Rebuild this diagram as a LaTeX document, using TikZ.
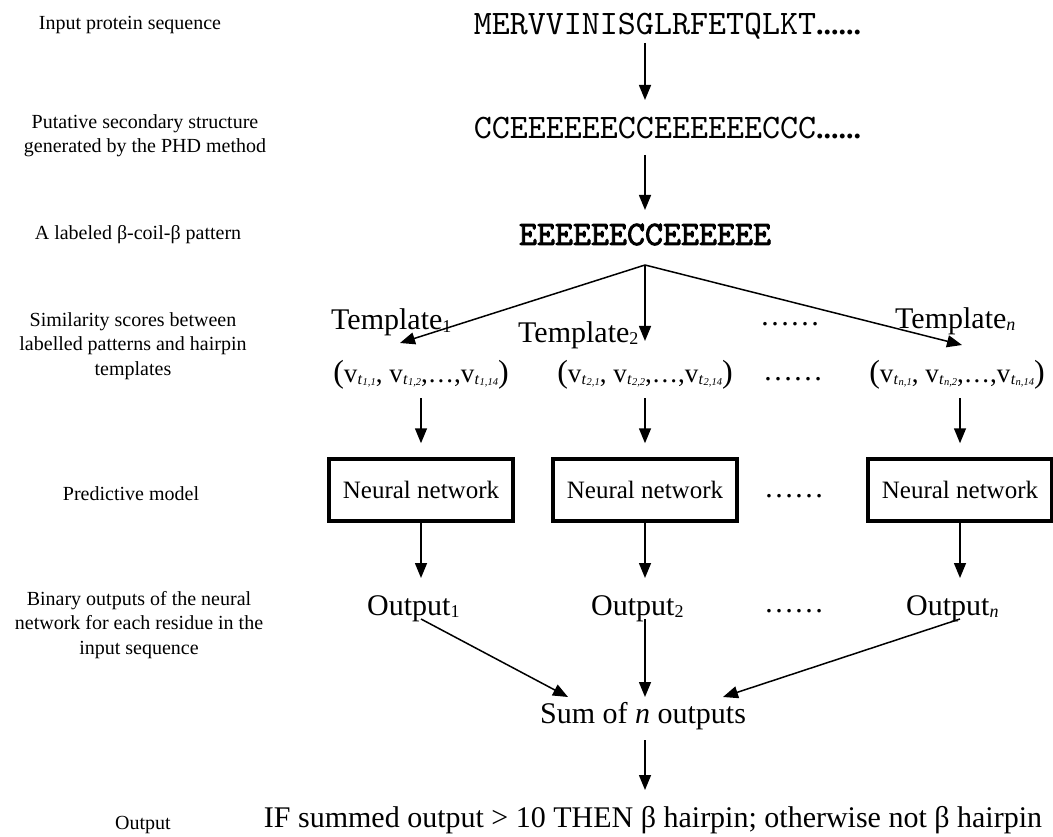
\documentclass[tikz,border=0pt]{standalone}
\usepackage{fontspec}
\setmainfont{Liberation Serif}
\newfontfamily\seqfont{lmmono10-regular.otf}
\newfontfamily\seqbold{lmmono10-regular.otf}[FakeBold=2.5]
\usetikzlibrary{arrows.meta,calc}
\newcommand{\vsb}[1]{v\kern0.3pt\raisebox{-2pt}{\fontsize{16}{16}\selectfont\textit{t}\kern0.2pt\raisebox{-1pt}{\fontsize{10.5}{10.5}\selectfont\textit{#1}}}}
\newcommand{\tuple}[1]{{\fontsize{32}{32}\selectfont(}\vsb{#1,1}, \vsb{#1,2},\kern1pt.\kern2pt.\kern2pt.\kern1pt,\vsb{#1,14}{\fontsize{32}{32}\selectfont)}}
\newcommand{\sbx}[1]{\raisebox{-2pt}{\fontsize{18}{18}\selectfont #1}}
\begin{document}
\begin{tikzpicture}[x=1pt,y=-1pt,
  lab/.style={font=\fontsize{20}{24.5}\selectfont, align=center, anchor=base, inner sep=0pt},
  main/.style={font=\fontsize{30}{36}\selectfont, anchor=base, inner sep=0pt},
  seq/.style={font=\fontsize{34.3}{40}\seqfont, anchor=base, inner sep=0pt},
  tup/.style={font=\fontsize{27}{32}\selectfont, anchor=base, inner sep=0pt},
  nnbox/.style={draw, line width=3.5pt, minimum width=184pt, minimum height=62pt, font=\fontsize{25}{30}\selectfont, inner sep=0pt},
  arr/.style={line width=1.5pt, -{Triangle[length=15pt,width=12pt]}},
  ln/.style={line width=1.5pt}]
\useasboundingbox (0,0) rectangle (1053,837);
% left labels
\node[lab] (L1) at (130,30) {Input protein sequence};
\node[lab] (L2) at (145,153) {Putative secondary structure\\generated by the PHD method};
\node[lab] (L3) at (138,240) {A labeled β-coil-β pattern};
\node[lab] (L4) at (133,375) {Similarity scores between\\labelled patterns and hairpin\\templates};
\node[lab] (L5) at (131,500) {Predictive model};
\node[lab] (L6) at (139,654) {Binary outputs of the neural\\network for each residue in the\\input sequence};
\node[lab] (L7) at (143,829) {Output};
% sequences
\node[seq] (seq1) at (645,35) {MERVVINISGLRFETQLKT\rlap{\rmfamily\bfseries\fontsize{30}{36}\selectfont ......}};
\node[seq] (seq2) at (645,139) {CCEEEEEECCEEEEEECCC\rlap{\rmfamily\bfseries\fontsize{30}{36}\selectfont ......}};
\node[seq, font=\fontsize{34.3}{40}\seqbold] (seq3) at (645,245) {EEEEEECCEEEEEE};
\coordinate (split) at ([yshift=-20pt]seq3.base);
% templates
\node[main, anchor=base west] (T1) at (331,330) {Template\sbx{1}};
\node[main, anchor=base west] (T2) at (518,342) {Template\sbx{2}};
\node[main, anchor=base west] (Tn) at (895,328) {Template\sbx{\textit{n}}};
\node[main] (d1) at (790,326) {……};
% tuples
\node[tup] (tup1) at (421,382) {\tuple{1}};
\node[tup] (tup2) at (645,382) {\tuple{2}};
\node[tup] (tup3) at (957,382) {\tuple{n}};
\node[main] (d2) at (793,380) {……};
% boxes
\node[nnbox] (box1) at (421,490) {Neural network};
\node[nnbox] (box2) at (645,490) {Neural network};
\node[nnbox] (box3) at (960,490) {Neural network};
\node[main] (d3) at (794,497) {……};
% outputs
\node[main, anchor=base west] (out1) at (367,615) {Output\sbx{1}};
\node[main, anchor=base west] (out2) at (591,615) {Output\sbx{2}};
\node[main, anchor=base west] (out3) at (906,615) {Output\sbx{\textit{n}}};
\node[main] (d4) at (794,612) {……};
\node[main] (sum) at (643,723) {Sum of \textit{n} outputs};
\node[main] (final) at (653,827) {IF summed output > 10 THEN β hairpin; otherwise not β hairpin};
% arrows
\draw[arr] ([yshift=-8pt]seq1.base) -- ([yshift=39pt]seq2.base);
\draw[arr] ([yshift=-16pt]seq2.base) -- ([yshift=35pt]seq3.base);
\draw[arr] (split) -- ([xshift=-21pt,yshift=39pt]tup1.base);
\draw[arr] (split) -- ([yshift=41pt]tup2.base);
\draw[arr] (split) -- ([xshift=5pt,yshift=37pt]tup3.base);
\foreach \i in {1,2}{
  \draw[arr] ([yshift=-16pt]tup\i.base) -- ([yshift=14pt]box\i.north);
}
\draw[arr] ([xshift=3pt,yshift=-16pt]tup3.base) -- ([yshift=14pt]box3.north);
\foreach \i in {1,2,3}{
  \draw[arr] (box\i.south) -- ($(box\i.south |- out\i.base)+(0,-37)$);
}
\draw[arr] ($(box1.south |- out1.base)+(0,4)$) -- ($(sum.base)+(-75,-26)$);
\draw[arr] ($(box2.south |- out2.base)+(0,4)$) -- ($(box2.south |- sum.base)+(0,-26)$);
\draw[arr] ($(box3.south |- out3.base)+(0,4)$) -- ($(sum.base)+(80,-26)$);
\draw[arr] ($(box2.south |- sum.base)+(0,17)$) -- ($(box2.south |- final.base)+(0,-37)$);
\end{tikzpicture}
\end{document}
